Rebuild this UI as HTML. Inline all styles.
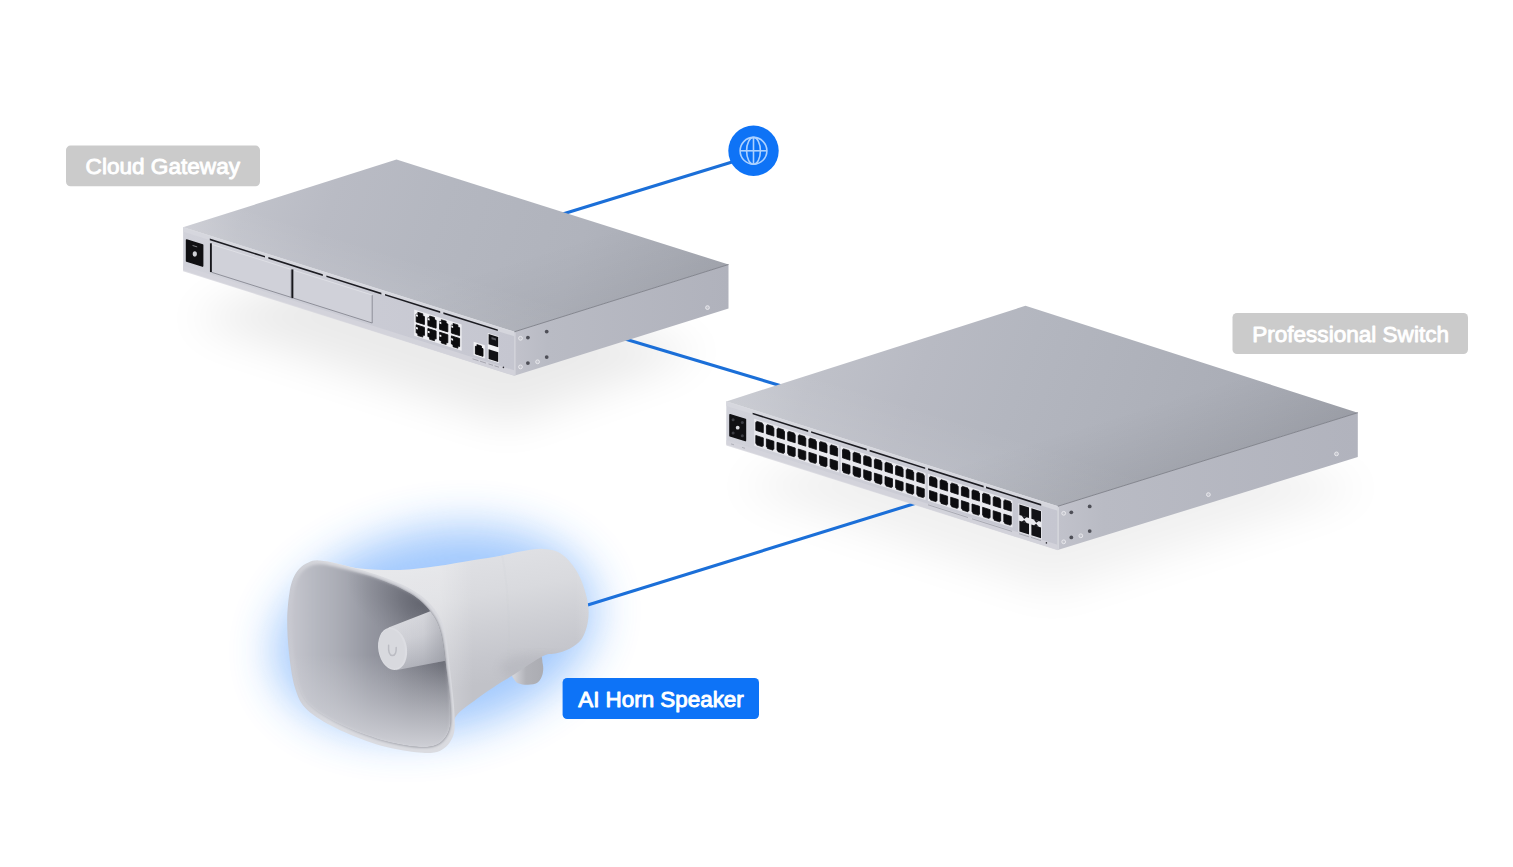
<!DOCTYPE html>
<html><head><meta charset="utf-8"><title>Network diagram</title>
<style>
html,body{margin:0;padding:0;background:#fff;}
body{width:1513px;height:867px;overflow:hidden;font-family:"Liberation Sans",sans-serif;}
</style></head>
<body>
<svg width="1513" height="867" viewBox="0 0 1513 867" style="display:block"><defs>
<filter id="blur16" x="-30%" y="-60%" width="160%" height="220%"><feGaussianBlur stdDeviation="16"/></filter>
<filter id="blur20" x="-30%" y="-60%" width="160%" height="220%"><feGaussianBlur stdDeviation="20"/></filter>
<filter id="blur14" x="-30%" y="-60%" width="160%" height="220%"><feGaussianBlur stdDeviation="14"/></filter>
<filter id="blur22" x="-30%" y="-60%" width="160%" height="220%"><feGaussianBlur stdDeviation="22"/></filter>
<filter id="blur10" x="-30%" y="-60%" width="160%" height="220%"><feGaussianBlur stdDeviation="10"/></filter>
<filter id="glow" x="-50%" y="-50%" width="200%" height="200%"><feGaussianBlur stdDeviation="23"/></filter>
<filter id="soft" x="-10%" y="-10%" width="120%" height="120%"><feGaussianBlur stdDeviation="0.45"/></filter>
<filter id="soft2" x="-10%" y="-10%" width="120%" height="120%"><feGaussianBlur stdDeviation="1.6"/></filter>
<filter id="soft4" x="-20%" y="-20%" width="140%" height="140%"><feGaussianBlur stdDeviation="4"/></filter>
<linearGradient id="gwTop" gradientUnits="userSpaceOnUse" x1="183.1" y1="227.3" x2="680.6" y2="401.5">
  <stop offset="0" stop-color="#cbccd3"/><stop offset="0.1" stop-color="#c0c2ca"/><stop offset="0.25" stop-color="#b9bbc4"/><stop offset="0.45" stop-color="#b4b7c0"/><stop offset="0.72" stop-color="#b0b3bc"/><stop offset="0.9" stop-color="#aaadb6"/><stop offset="1" stop-color="#a6a9b2"/>
</linearGradient>
<linearGradient id="gwTopX" gradientUnits="userSpaceOnUse" x1="349" y1="279.7" x2="387.8" y2="156.6">
  <stop offset="0" stop-color="#fff" stop-opacity="0.07"/><stop offset="0.3" stop-color="#fff" stop-opacity="0"/><stop offset="1" stop-color="#fff" stop-opacity="0"/>
</linearGradient>
<linearGradient id="gwFront" gradientUnits="userSpaceOnUse" x1="184" y1="0" x2="515" y2="0">
  <stop offset="0" stop-color="#d1d2da"/><stop offset="1" stop-color="#c5c6d0"/>
</linearGradient>
<linearGradient id="gwSide" gradientUnits="userSpaceOnUse" x1="515" y1="0" x2="729" y2="0">
  <stop offset="0" stop-color="#c1c2cb"/><stop offset="0.15" stop-color="#b9bbc4"/><stop offset="1" stop-color="#b0b2bc"/>
</linearGradient>
<linearGradient id="swTop" gradientUnits="userSpaceOnUse" x1="726.3" y1="401.4" x2="1292.5" y2="599.6">
  <stop offset="0" stop-color="#c8cad1"/><stop offset="0.12" stop-color="#bfc1c9"/><stop offset="0.29" stop-color="#b8bac3"/><stop offset="0.45" stop-color="#b3b6bf"/><stop offset="0.62" stop-color="#afb2bb"/><stop offset="0.85" stop-color="#a9acb5"/><stop offset="1" stop-color="#a4a7b0"/>
</linearGradient>
<linearGradient id="swTopX" gradientUnits="userSpaceOnUse" x1="892" y1="454" x2="946.5" y2="281.3">
  <stop offset="0" stop-color="#fff" stop-opacity="0.07"/><stop offset="0.3" stop-color="#fff" stop-opacity="0"/><stop offset="1" stop-color="#fff" stop-opacity="0"/>
</linearGradient>
<linearGradient id="swFront" gradientUnits="userSpaceOnUse" x1="726" y1="0" x2="1058" y2="0">
  <stop offset="0" stop-color="#d1d2da"/><stop offset="1" stop-color="#c5c6d0"/>
</linearGradient>
<linearGradient id="swSide" gradientUnits="userSpaceOnUse" x1="1058" y1="0" x2="1358" y2="0">
  <stop offset="0" stop-color="#c1c2cb"/><stop offset="0.15" stop-color="#b9bbc4"/><stop offset="1" stop-color="#b1b3bd"/>
</linearGradient>
<linearGradient id="swTopR" gradientUnits="userSpaceOnUse" x1="1207.7" y1="459.5" x2="1148.4" y2="269.5">
  <stop offset="0" stop-color="#000" stop-opacity="0.06"/><stop offset="0.35" stop-color="#000" stop-opacity="0"/><stop offset="1" stop-color="#000" stop-opacity="0"/>
</linearGradient>
<linearGradient id="gwTopR" gradientUnits="userSpaceOnUse" x1="621.4" y1="298.2" x2="561.7" y2="108.4">
  <stop offset="0" stop-color="#000" stop-opacity="0.04"/><stop offset="0.35" stop-color="#000" stop-opacity="0"/><stop offset="1" stop-color="#000" stop-opacity="0"/>
</linearGradient>
</defs>
<rect width="1513" height="867" fill="#ffffff"/>
<g filter="url(#blur22)" opacity="0.078">
<polygon points="188.0,318.0 508.0,424.0 705.0,352.0 380.0,250.0" fill="#000"/>
</g>
<g filter="url(#blur22)" opacity="0.055">
<polygon points="734.0,486.0 1052.0,592.0 1368.0,488.0 1035.0,385.0" fill="#000"/>
</g>
<g stroke="#1b6fd8" stroke-width="3.1" stroke-linecap="butt">
<line x1="750" y1="156.4" x2="540" y2="220.9"/>
<line x1="600" y1="331.6" x2="800" y2="391.4"/>
<line x1="940" y1="495.7" x2="570" y2="610.6"/>
</g>
<g id="gateway">
<polygon points="183.1,227.3 514.3,331.8 514.3,375.8 183.1,270.2" fill="url(#gwFront)"/>
<polygon points="514.3,331.8 728.5,264.5 728.5,308.5 514.3,375.8" fill="url(#gwSide)"/>
<polygon points="396.5,159.5 183.1,227.3 514.3,331.8 728.5,264.5" fill="url(#gwTop)"/>
<polygon points="396.5,159.5 183.1,227.3 514.3,331.8 728.5,264.5" fill="url(#gwTopX)"/>
<polygon points="396.5,159.5 183.1,227.3 514.3,331.8 728.5,264.5" fill="url(#gwTopR)"/>
<polygon points="183.1,227.3 514.3,331.8 514.3,336.3 183.1,231.8" fill="#d6d7de" opacity="0.9"/>
<polygon points="183.1,265.8 514.3,370.3 514.3,375.8 183.1,271.3" fill="#d4d5dc" opacity="0.8"/>
<line x1="514.3" y1="331.8" x2="728.5" y2="264.5" stroke="#7d7f88" stroke-width="0.9"/>
<line x1="183.1" y1="227.60000000000002" x2="514.3" y2="332.1" stroke="#d9dae0" stroke-width="1"/>
<line x1="514.9" y1="332.8" x2="514.9" y2="375.3" stroke="#d3d4db" stroke-width="1.4"/>
<polygon points="186.6,240.0 202.6,245.1 202.6,266.1 186.6,261.0" fill="#101013" stroke="#101013" stroke-width="1.6" stroke-linejoin="round"/>
<ellipse cx="194.8" cy="254.0" rx="2.1" ry="2.7" fill="#cfd0d6"/>
<line x1="192.6" y1="245.5" x2="197.2" y2="246.9" stroke="#8b8c92" stroke-width="0.9"/>
<polygon points="209.8,238.6 265.0,256.0 265.0,257.6 209.8,240.2" fill="#1c1c22"/>
<polygon points="268.4,257.1 322.8,274.3 322.8,275.9 268.4,258.7" fill="#1c1c22"/>
<polygon points="326.4,275.4 381.4,292.8 381.4,294.4 326.4,277.0" fill="#1c1c22"/>
<polygon points="385.0,293.9 440.2,311.3 440.2,312.9 385.0,295.5" fill="#1c1c22"/>
<polygon points="443.4,312.3 497.8,329.5 497.8,331.1 443.4,313.9" fill="#1c1c22"/>
<polygon points="211.6,244.3 291.2,269.4 291.2,297.4 211.6,272.3" fill="#d0d1d9"/>
<polyline points="211.6,272.3 291.2,297.4 291.2,269.4" fill="none" stroke="#7e7f89" stroke-width="0.8"/>
<polyline points="211.6,244.3 291.2,269.4" fill="none" stroke="#e0e1e7" stroke-width="0.9"/>
<polygon points="293.4,270.1 372.2,295.0 372.2,323.0 293.4,298.1" fill="#d0d1d9"/>
<polyline points="293.4,298.1 372.2,323.0 372.2,295.0" fill="none" stroke="#7e7f89" stroke-width="0.8"/>
<polyline points="293.4,270.1 372.2,295.0" fill="none" stroke="#e0e1e7" stroke-width="0.9"/>
<line x1="210.9" y1="243.3" x2="210.9" y2="272.1" stroke="#17171c" stroke-width="1.9"/>
<line x1="292.4" y1="269.4" x2="292.4" y2="298.2" stroke="#17171c" stroke-width="1.9"/>
<polygon points="414.2,309.5 461.6,324.5 461.6,350.8 414.2,335.8" fill="#eeeef2"/>
<polygon points="416.2,314.0 424.4,316.6 424.4,324.5 416.2,321.9" fill="#0c0c0e" stroke="#0c0c0e" stroke-width="0.9" stroke-linejoin="round"/><polygon points="417.8,312.3 422.8,313.8 422.8,317.9 417.8,316.3" fill="#0c0c0e" stroke="#0c0c0e" stroke-width="0.7" stroke-linejoin="round"/>
<polygon points="416.2,324.8 424.4,327.4 424.4,335.4 416.2,332.8" fill="#0c0c0e" stroke="#0c0c0e" stroke-width="0.9" stroke-linejoin="round"/><polygon points="417.8,331.5 422.8,333.0 422.8,337.1 417.8,335.6" fill="#0c0c0e" stroke="#0c0c0e" stroke-width="0.7" stroke-linejoin="round"/>
<polygon points="416.0,314.2 417.9,314.8 417.9,316.8 416.0,316.2" fill="#f3f3f6"/>
<polygon points="416.0,327.0 417.9,327.6 417.9,329.6 416.0,329.0" fill="#f3f3f6"/>
<polygon points="427.9,317.7 436.1,320.3 436.1,328.2 427.9,325.6" fill="#0c0c0e" stroke="#0c0c0e" stroke-width="0.9" stroke-linejoin="round"/><polygon points="429.6,316.0 434.5,317.5 434.5,321.6 429.6,320.0" fill="#0c0c0e" stroke="#0c0c0e" stroke-width="0.7" stroke-linejoin="round"/>
<polygon points="427.9,328.5 436.1,331.1 436.1,339.1 427.9,336.5" fill="#0c0c0e" stroke="#0c0c0e" stroke-width="0.9" stroke-linejoin="round"/><polygon points="429.6,335.2 434.5,336.7 434.5,340.8 429.6,339.3" fill="#0c0c0e" stroke="#0c0c0e" stroke-width="0.7" stroke-linejoin="round"/>
<polygon points="427.7,317.9 429.6,318.5 429.6,320.5 427.7,319.9" fill="#f3f3f6"/>
<polygon points="427.7,330.7 429.6,331.3 429.6,333.3 427.7,332.7" fill="#f3f3f6"/>
<polygon points="439.6,321.4 447.8,324.0 447.8,331.9 439.6,329.3" fill="#0c0c0e" stroke="#0c0c0e" stroke-width="0.9" stroke-linejoin="round"/><polygon points="441.3,319.7 446.2,321.2 446.2,325.3 441.3,323.7" fill="#0c0c0e" stroke="#0c0c0e" stroke-width="0.7" stroke-linejoin="round"/>
<polygon points="439.6,332.2 447.8,334.8 447.8,342.8 439.6,340.2" fill="#0c0c0e" stroke="#0c0c0e" stroke-width="0.9" stroke-linejoin="round"/><polygon points="441.3,338.9 446.2,340.4 446.2,344.5 441.3,343.0" fill="#0c0c0e" stroke="#0c0c0e" stroke-width="0.7" stroke-linejoin="round"/>
<polygon points="439.4,321.6 441.3,322.2 441.3,324.2 439.4,323.6" fill="#f3f3f6"/>
<polygon points="439.4,334.4 441.3,335.0 441.3,337.0 439.4,336.4" fill="#f3f3f6"/>
<polygon points="451.4,325.1 459.6,327.7 459.6,335.6 451.4,333.0" fill="#0c0c0e" stroke="#0c0c0e" stroke-width="0.9" stroke-linejoin="round"/><polygon points="453.0,323.4 457.9,324.9 457.9,329.0 453.0,327.4" fill="#0c0c0e" stroke="#0c0c0e" stroke-width="0.7" stroke-linejoin="round"/>
<polygon points="451.4,335.9 459.6,338.5 459.6,346.5 451.4,343.9" fill="#0c0c0e" stroke="#0c0c0e" stroke-width="0.9" stroke-linejoin="round"/><polygon points="453.0,342.6 457.9,344.1 457.9,348.2 453.0,346.7" fill="#0c0c0e" stroke="#0c0c0e" stroke-width="0.7" stroke-linejoin="round"/>
<polygon points="451.2,325.3 453.1,325.9 453.1,327.9 451.2,327.3" fill="#f3f3f6"/>
<polygon points="451.2,338.1 453.1,338.7 453.1,340.7 451.2,340.1" fill="#f3f3f6"/>
<polygon points="473.6,341.8 484.8,345.3 484.8,358.5 473.6,355.0" fill="#f2f2f5"/>
<polygon points="475.4,346.3 483.0,348.7 483.0,356.3 475.4,353.9" fill="#0c0c0e" stroke="#0c0c0e" stroke-width="0.9" stroke-linejoin="round"/><polygon points="476.9,344.6 481.5,346.0 481.5,350.0 476.9,348.5" fill="#0c0c0e" stroke="#0c0c0e" stroke-width="0.7" stroke-linejoin="round"/>
<polygon points="487.8,333.0 498.8,336.5 498.8,362.9 487.8,359.4" fill="#f2f2f5"/>
<polygon points="488.6,334.1 498.2,337.1 498.2,347.3 488.6,344.3" fill="#121216"/>
<polygon points="488.6,349.3 498.2,352.3 498.2,361.9 488.6,358.9" fill="#121216"/>
<polygon points="491.5,337.0 496.0,338.4 496.0,340.6 491.5,339.2" fill="#55565c"/>
<line x1="472.5" y1="358.8" x2="478.5" y2="360.7" stroke="#9a9ba4" stroke-width="0.8"/>
<line x1="480" y1="361.2" x2="486" y2="363.1" stroke="#9a9ba4" stroke-width="0.8"/>
<line x1="488.5" y1="363.9" x2="493" y2="365.3" stroke="#9a9ba4" stroke-width="0.8"/>
<line x1="494.5" y1="365.8" x2="499" y2="367.2" stroke="#9a9ba4" stroke-width="0.8"/>
<circle cx="503.4" cy="367.4" r="0.8" fill="#303036"/>
<circle cx="520.5" cy="338.3" r="1.9" fill="#c4c5cd" stroke="#ededf1" stroke-width="0.85"/>
<circle cx="520.5" cy="366.9" r="1.9" fill="#c4c5cd" stroke="#ededf1" stroke-width="0.85"/>
<circle cx="537.6" cy="361.8" r="1.9" fill="#c4c5cd" stroke="#ededf1" stroke-width="0.85"/>
<circle cx="707.5" cy="307.6" r="1.9" fill="#c4c5cd" stroke="#ededf1" stroke-width="0.85"/>
<circle cx="527.9" cy="337.6" r="1.9" fill="#4e4f57"/>
<circle cx="546.7" cy="331.6" r="1.9" fill="#4e4f57"/>
<circle cx="527.9" cy="363.1" r="1.9" fill="#4e4f57"/>
<circle cx="546.7" cy="357.1" r="1.9" fill="#4e4f57"/>
</g>
<g id="switch">
<polygon points="726.3,401.4 1057.7,506.3 1057.7,550.1 726.3,444.4" fill="url(#swFront)"/>
<polygon points="1057.7,506.3 1357.8,412.7 1357.8,457.1 1057.7,550.1" fill="url(#swSide)"/>
<polygon points="1025.5,305.8 726.3,401.4 1057.7,506.3 1357.8,412.7" fill="url(#swTop)"/>
<polygon points="1025.5,305.8 726.3,401.4 1057.7,506.3 1357.8,412.7" fill="url(#swTopX)"/>
<polygon points="1025.5,305.8 726.3,401.4 1057.7,506.3 1357.8,412.7" fill="url(#swTopR)"/>
<polygon points="726.3,401.4 1057.7,506.3 1057.7,510.8 726.3,405.9" fill="#d6d7de" opacity="0.9"/>
<polygon points="726.3,439.9 1057.7,544.8 1057.7,550.3 726.3,445.4" fill="#d4d5dc" opacity="0.8"/>
<line x1="1057.7" y1="506.3" x2="1357.8" y2="412.7" stroke="#7d7f88" stroke-width="0.9"/>
<line x1="726.3" y1="401.7" x2="1057.7" y2="506.6" stroke="#d9dae0" stroke-width="1"/>
<line x1="1058.3" y1="507.3" x2="1058.3" y2="549.6" stroke="#d3d4db" stroke-width="1.4"/>
<polygon points="730.0,414.8 745.4,419.6 745.4,440.6 730.0,435.8" fill="#101013" stroke="#101013" stroke-width="1.6" stroke-linejoin="round"/>
<circle cx="737.7" cy="427.7" r="1.9" fill="#d8d9de"/>
<circle cx="733.1" cy="419.7" r="1.5" fill="#3c3d43"/>
<circle cx="742.3000000000001" cy="422.6" r="1.5" fill="#3c3d43"/>
<circle cx="733.1" cy="432.9" r="1.5" fill="#3c3d43"/>
<circle cx="742.3000000000001" cy="435.8" r="1.5" fill="#3c3d43"/>
<polygon points="752.6,412.7 808.2,430.3 808.2,431.9 752.6,414.3" fill="#1c1c22"/>
<polygon points="811.1,431.2 866.7,448.8 866.7,450.4 811.1,432.8" fill="#1c1c22"/>
<polygon points="869.6,449.8 925.2,467.4 925.2,469.0 869.6,451.4" fill="#1c1c22"/>
<polygon points="928.1,468.3 983.6,485.8 983.6,487.4 928.1,469.9" fill="#1c1c22"/>
<polygon points="986.0,486.6 1041.2,504.1 1041.2,505.7 986.0,488.2" fill="#1c1c22"/>
<polygon points="754.2,418.8 838.8,445.6 838.8,472.6 754.2,445.8" fill="#e9e9ee"/>
<polygon points="755.8,422.3 763.3,424.6 763.3,432.7 755.8,430.3" fill="#0d0d10" stroke="#0d0d10" stroke-width="0.8" stroke-linejoin="round"/><polygon points="756.7,421.2 762.4,423.0 762.4,426.8 756.7,425.0" fill="#0d0d10" stroke="#0d0d10" stroke-width="0.6" stroke-linejoin="round"/>
<polygon points="755.8,435.5 763.3,437.9 763.3,445.8 755.8,443.4" fill="#0d0d10" stroke="#0d0d10" stroke-width="0.8" stroke-linejoin="round"/><polygon points="756.7,441.3 762.4,443.1 762.4,446.8 756.7,445.0" fill="#0d0d10" stroke="#0d0d10" stroke-width="0.6" stroke-linejoin="round"/>
<polygon points="766.4,425.6 773.9,428.0 773.9,436.1 766.4,433.7" fill="#0d0d10" stroke="#0d0d10" stroke-width="0.8" stroke-linejoin="round"/><polygon points="767.3,424.6 773.0,426.4 773.0,430.1 767.3,428.3" fill="#0d0d10" stroke="#0d0d10" stroke-width="0.6" stroke-linejoin="round"/>
<polygon points="766.4,438.9 773.9,441.3 773.9,449.2 766.4,446.8" fill="#0d0d10" stroke="#0d0d10" stroke-width="0.8" stroke-linejoin="round"/><polygon points="767.3,444.7 773.0,446.5 773.0,450.2 767.3,448.4" fill="#0d0d10" stroke="#0d0d10" stroke-width="0.6" stroke-linejoin="round"/>
<polygon points="777.0,429.0 784.5,431.4 784.5,439.4 777.0,437.1" fill="#0d0d10" stroke="#0d0d10" stroke-width="0.8" stroke-linejoin="round"/><polygon points="777.9,427.9 783.6,429.8 783.6,433.5 777.9,431.7" fill="#0d0d10" stroke="#0d0d10" stroke-width="0.6" stroke-linejoin="round"/>
<polygon points="777.0,442.3 784.5,444.6 784.5,452.5 777.0,450.2" fill="#0d0d10" stroke="#0d0d10" stroke-width="0.8" stroke-linejoin="round"/><polygon points="777.9,448.1 783.6,449.9 783.6,453.6 777.9,451.7" fill="#0d0d10" stroke="#0d0d10" stroke-width="0.6" stroke-linejoin="round"/>
<polygon points="787.7,432.3 795.2,434.7 795.2,442.8 787.7,440.4" fill="#0d0d10" stroke="#0d0d10" stroke-width="0.8" stroke-linejoin="round"/><polygon points="788.6,431.3 794.3,433.1 794.3,436.9 788.6,435.1" fill="#0d0d10" stroke="#0d0d10" stroke-width="0.6" stroke-linejoin="round"/>
<polygon points="787.7,445.6 795.2,448.0 795.2,455.9 787.7,453.5" fill="#0d0d10" stroke="#0d0d10" stroke-width="0.8" stroke-linejoin="round"/><polygon points="788.6,451.4 794.3,453.2 794.3,456.9 788.6,455.1" fill="#0d0d10" stroke="#0d0d10" stroke-width="0.6" stroke-linejoin="round"/>
<polygon points="798.3,435.7 805.8,438.1 805.8,446.2 798.3,443.8" fill="#0d0d10" stroke="#0d0d10" stroke-width="0.8" stroke-linejoin="round"/><polygon points="799.2,434.7 804.9,436.5 804.9,440.2 799.2,438.4" fill="#0d0d10" stroke="#0d0d10" stroke-width="0.6" stroke-linejoin="round"/>
<polygon points="798.3,449.0 805.8,451.4 805.8,459.3 798.3,456.9" fill="#0d0d10" stroke="#0d0d10" stroke-width="0.8" stroke-linejoin="round"/><polygon points="799.2,454.8 804.9,456.6 804.9,460.3 799.2,458.5" fill="#0d0d10" stroke="#0d0d10" stroke-width="0.6" stroke-linejoin="round"/>
<polygon points="808.9,439.1 816.4,441.4 816.4,449.5 808.9,447.1" fill="#0d0d10" stroke="#0d0d10" stroke-width="0.8" stroke-linejoin="round"/><polygon points="809.8,438.0 815.5,439.8 815.5,443.6 809.8,441.8" fill="#0d0d10" stroke="#0d0d10" stroke-width="0.6" stroke-linejoin="round"/>
<polygon points="808.9,452.3 816.4,454.7 816.4,462.6 808.9,460.3" fill="#0d0d10" stroke="#0d0d10" stroke-width="0.8" stroke-linejoin="round"/><polygon points="809.8,458.2 815.5,460.0 815.5,463.6 809.8,461.8" fill="#0d0d10" stroke="#0d0d10" stroke-width="0.6" stroke-linejoin="round"/>
<polygon points="819.5,442.4 827.0,444.8 827.0,452.9 819.5,450.5" fill="#0d0d10" stroke="#0d0d10" stroke-width="0.8" stroke-linejoin="round"/><polygon points="820.4,441.4 826.1,443.2 826.1,447.0 820.4,445.2" fill="#0d0d10" stroke="#0d0d10" stroke-width="0.6" stroke-linejoin="round"/>
<polygon points="819.5,455.7 827.0,458.1 827.0,466.0 819.5,463.6" fill="#0d0d10" stroke="#0d0d10" stroke-width="0.8" stroke-linejoin="round"/><polygon points="820.4,461.5 826.1,463.3 826.1,467.0 820.4,465.2" fill="#0d0d10" stroke="#0d0d10" stroke-width="0.6" stroke-linejoin="round"/>
<polygon points="830.1,445.8 837.6,448.2 837.6,456.2 830.1,453.9" fill="#0d0d10" stroke="#0d0d10" stroke-width="0.8" stroke-linejoin="round"/><polygon points="831.0,444.8 836.7,446.6 836.7,450.3 831.0,448.5" fill="#0d0d10" stroke="#0d0d10" stroke-width="0.6" stroke-linejoin="round"/>
<polygon points="830.1,459.1 837.6,461.4 837.6,469.4 830.1,467.0" fill="#0d0d10" stroke="#0d0d10" stroke-width="0.8" stroke-linejoin="round"/><polygon points="831.0,464.9 836.7,466.7 836.7,470.4 831.0,468.6" fill="#0d0d10" stroke="#0d0d10" stroke-width="0.6" stroke-linejoin="round"/>
<polygon points="840.9,446.3 925.5,473.1 925.5,500.1 840.9,473.3" fill="#e9e9ee"/>
<polygon points="842.5,449.7 850.0,452.1 850.0,460.2 842.5,457.8" fill="#0d0d10" stroke="#0d0d10" stroke-width="0.8" stroke-linejoin="round"/><polygon points="843.4,448.7 849.1,450.5 849.1,454.2 843.4,452.4" fill="#0d0d10" stroke="#0d0d10" stroke-width="0.6" stroke-linejoin="round"/>
<polygon points="842.5,463.0 850.0,465.4 850.0,473.3 842.5,470.9" fill="#0d0d10" stroke="#0d0d10" stroke-width="0.8" stroke-linejoin="round"/><polygon points="843.4,468.8 849.1,470.6 849.1,474.3 843.4,472.5" fill="#0d0d10" stroke="#0d0d10" stroke-width="0.6" stroke-linejoin="round"/>
<polygon points="853.1,453.1 860.6,455.4 860.6,463.5 853.1,461.1" fill="#0d0d10" stroke="#0d0d10" stroke-width="0.8" stroke-linejoin="round"/><polygon points="854.0,452.0 859.7,453.8 859.7,457.6 854.0,455.8" fill="#0d0d10" stroke="#0d0d10" stroke-width="0.6" stroke-linejoin="round"/>
<polygon points="853.1,466.3 860.6,468.7 860.6,476.6 853.1,474.3" fill="#0d0d10" stroke="#0d0d10" stroke-width="0.8" stroke-linejoin="round"/><polygon points="854.0,472.1 859.7,474.0 859.7,477.6 854.0,475.8" fill="#0d0d10" stroke="#0d0d10" stroke-width="0.6" stroke-linejoin="round"/>
<polygon points="863.7,456.4 871.2,458.8 871.2,466.9 863.7,464.5" fill="#0d0d10" stroke="#0d0d10" stroke-width="0.8" stroke-linejoin="round"/><polygon points="864.6,455.4 870.3,457.2 870.3,461.0 864.6,459.1" fill="#0d0d10" stroke="#0d0d10" stroke-width="0.6" stroke-linejoin="round"/>
<polygon points="863.7,469.7 871.2,472.1 871.2,480.0 863.7,477.6" fill="#0d0d10" stroke="#0d0d10" stroke-width="0.8" stroke-linejoin="round"/><polygon points="864.6,475.5 870.3,477.3 870.3,481.0 864.6,479.2" fill="#0d0d10" stroke="#0d0d10" stroke-width="0.6" stroke-linejoin="round"/>
<polygon points="874.4,459.8 881.9,462.2 881.9,470.2 874.4,467.9" fill="#0d0d10" stroke="#0d0d10" stroke-width="0.8" stroke-linejoin="round"/><polygon points="875.3,458.8 881.0,460.6 881.0,464.3 875.3,462.5" fill="#0d0d10" stroke="#0d0d10" stroke-width="0.6" stroke-linejoin="round"/>
<polygon points="874.4,473.1 881.9,475.4 881.9,483.4 874.4,481.0" fill="#0d0d10" stroke="#0d0d10" stroke-width="0.8" stroke-linejoin="round"/><polygon points="875.3,478.9 881.0,480.7 881.0,484.4 875.3,482.6" fill="#0d0d10" stroke="#0d0d10" stroke-width="0.6" stroke-linejoin="round"/>
<polygon points="885.0,463.1 892.5,465.5 892.5,473.6 885.0,471.2" fill="#0d0d10" stroke="#0d0d10" stroke-width="0.8" stroke-linejoin="round"/><polygon points="885.9,462.1 891.6,463.9 891.6,467.7 885.9,465.9" fill="#0d0d10" stroke="#0d0d10" stroke-width="0.6" stroke-linejoin="round"/>
<polygon points="885.0,476.4 892.5,478.8 892.5,486.7 885.0,484.3" fill="#0d0d10" stroke="#0d0d10" stroke-width="0.8" stroke-linejoin="round"/><polygon points="885.9,482.2 891.6,484.0 891.6,487.7 885.9,485.9" fill="#0d0d10" stroke="#0d0d10" stroke-width="0.6" stroke-linejoin="round"/>
<polygon points="895.6,466.5 903.1,468.9 903.1,477.0 895.6,474.6" fill="#0d0d10" stroke="#0d0d10" stroke-width="0.8" stroke-linejoin="round"/><polygon points="896.5,465.5 902.2,467.3 902.2,471.0 896.5,469.2" fill="#0d0d10" stroke="#0d0d10" stroke-width="0.6" stroke-linejoin="round"/>
<polygon points="895.6,479.8 903.1,482.2 903.1,490.1 895.6,487.7" fill="#0d0d10" stroke="#0d0d10" stroke-width="0.8" stroke-linejoin="round"/><polygon points="896.5,485.6 902.2,487.4 902.2,491.1 896.5,489.3" fill="#0d0d10" stroke="#0d0d10" stroke-width="0.6" stroke-linejoin="round"/>
<polygon points="906.2,469.9 913.7,472.2 913.7,480.3 906.2,478.0" fill="#0d0d10" stroke="#0d0d10" stroke-width="0.8" stroke-linejoin="round"/><polygon points="907.1,468.8 912.8,470.6 912.8,474.4 907.1,472.6" fill="#0d0d10" stroke="#0d0d10" stroke-width="0.6" stroke-linejoin="round"/>
<polygon points="906.2,483.2 913.7,485.5 913.7,493.4 906.2,491.1" fill="#0d0d10" stroke="#0d0d10" stroke-width="0.8" stroke-linejoin="round"/><polygon points="907.1,489.0 912.8,490.8 912.8,494.4 907.1,492.6" fill="#0d0d10" stroke="#0d0d10" stroke-width="0.6" stroke-linejoin="round"/>
<polygon points="916.8,473.2 924.3,475.6 924.3,483.7 916.8,481.3" fill="#0d0d10" stroke="#0d0d10" stroke-width="0.8" stroke-linejoin="round"/><polygon points="917.7,472.2 923.4,474.0 923.4,477.8 917.7,476.0" fill="#0d0d10" stroke="#0d0d10" stroke-width="0.6" stroke-linejoin="round"/>
<polygon points="916.8,486.5 924.3,488.9 924.3,496.8 916.8,494.4" fill="#0d0d10" stroke="#0d0d10" stroke-width="0.8" stroke-linejoin="round"/><polygon points="917.7,492.3 923.4,494.1 923.4,497.8 917.7,496.0" fill="#0d0d10" stroke="#0d0d10" stroke-width="0.6" stroke-linejoin="round"/>
<polygon points="927.9,473.8 1012.5,500.6 1012.5,527.6 927.9,500.8" fill="#e9e9ee"/>
<polygon points="929.5,477.2 937.0,479.6 937.0,487.7 929.5,485.3" fill="#0d0d10" stroke="#0d0d10" stroke-width="0.8" stroke-linejoin="round"/><polygon points="930.4,476.2 936.1,478.0 936.1,481.8 930.4,480.0" fill="#0d0d10" stroke="#0d0d10" stroke-width="0.6" stroke-linejoin="round"/>
<polygon points="929.5,490.5 937.0,492.9 937.0,500.8 929.5,498.4" fill="#0d0d10" stroke="#0d0d10" stroke-width="0.8" stroke-linejoin="round"/><polygon points="930.4,496.3 936.1,498.1 936.1,501.8 930.4,500.0" fill="#0d0d10" stroke="#0d0d10" stroke-width="0.6" stroke-linejoin="round"/>
<polygon points="940.1,480.6 947.6,483.0 947.6,491.1 940.1,488.7" fill="#0d0d10" stroke="#0d0d10" stroke-width="0.8" stroke-linejoin="round"/><polygon points="941.0,479.6 946.7,481.4 946.7,485.1 941.0,483.3" fill="#0d0d10" stroke="#0d0d10" stroke-width="0.6" stroke-linejoin="round"/>
<polygon points="940.1,493.9 947.6,496.3 947.6,504.2 940.1,501.8" fill="#0d0d10" stroke="#0d0d10" stroke-width="0.8" stroke-linejoin="round"/><polygon points="941.0,499.7 946.7,501.5 946.7,505.2 941.0,503.4" fill="#0d0d10" stroke="#0d0d10" stroke-width="0.6" stroke-linejoin="round"/>
<polygon points="950.7,484.0 958.2,486.3 958.2,494.4 950.7,492.0" fill="#0d0d10" stroke="#0d0d10" stroke-width="0.8" stroke-linejoin="round"/><polygon points="951.6,482.9 957.3,484.7 957.3,488.5 951.6,486.7" fill="#0d0d10" stroke="#0d0d10" stroke-width="0.6" stroke-linejoin="round"/>
<polygon points="950.7,497.2 958.2,499.6 958.2,507.5 950.7,505.2" fill="#0d0d10" stroke="#0d0d10" stroke-width="0.8" stroke-linejoin="round"/><polygon points="951.6,503.0 957.3,504.9 957.3,508.5 951.6,506.7" fill="#0d0d10" stroke="#0d0d10" stroke-width="0.6" stroke-linejoin="round"/>
<polygon points="961.4,487.3 968.9,489.7 968.9,497.8 961.4,495.4" fill="#0d0d10" stroke="#0d0d10" stroke-width="0.8" stroke-linejoin="round"/><polygon points="962.3,486.3 968.0,488.1 968.0,491.9 962.3,490.0" fill="#0d0d10" stroke="#0d0d10" stroke-width="0.6" stroke-linejoin="round"/>
<polygon points="961.4,500.6 968.9,503.0 968.9,510.9 961.4,508.5" fill="#0d0d10" stroke="#0d0d10" stroke-width="0.8" stroke-linejoin="round"/><polygon points="962.3,506.4 968.0,508.2 968.0,511.9 962.3,510.1" fill="#0d0d10" stroke="#0d0d10" stroke-width="0.6" stroke-linejoin="round"/>
<polygon points="972.0,490.7 979.5,493.1 979.5,501.1 972.0,498.8" fill="#0d0d10" stroke="#0d0d10" stroke-width="0.8" stroke-linejoin="round"/><polygon points="972.9,489.7 978.6,491.5 978.6,495.2 972.9,493.4" fill="#0d0d10" stroke="#0d0d10" stroke-width="0.6" stroke-linejoin="round"/>
<polygon points="972.0,504.0 979.5,506.3 979.5,514.3 972.0,511.9" fill="#0d0d10" stroke="#0d0d10" stroke-width="0.8" stroke-linejoin="round"/><polygon points="972.9,509.8 978.6,511.6 978.6,515.3 972.9,513.5" fill="#0d0d10" stroke="#0d0d10" stroke-width="0.6" stroke-linejoin="round"/>
<polygon points="982.6,494.0 990.1,496.4 990.1,504.5 982.6,502.1" fill="#0d0d10" stroke="#0d0d10" stroke-width="0.8" stroke-linejoin="round"/><polygon points="983.5,493.0 989.2,494.8 989.2,498.6 983.5,496.8" fill="#0d0d10" stroke="#0d0d10" stroke-width="0.6" stroke-linejoin="round"/>
<polygon points="982.6,507.3 990.1,509.7 990.1,517.6 982.6,515.2" fill="#0d0d10" stroke="#0d0d10" stroke-width="0.8" stroke-linejoin="round"/><polygon points="983.5,513.1 989.2,514.9 989.2,518.6 983.5,516.8" fill="#0d0d10" stroke="#0d0d10" stroke-width="0.6" stroke-linejoin="round"/>
<polygon points="993.2,497.4 1000.7,499.8 1000.7,507.9 993.2,505.5" fill="#0d0d10" stroke="#0d0d10" stroke-width="0.8" stroke-linejoin="round"/><polygon points="994.1,496.4 999.8,498.2 999.8,501.9 994.1,500.1" fill="#0d0d10" stroke="#0d0d10" stroke-width="0.6" stroke-linejoin="round"/>
<polygon points="993.2,510.7 1000.7,513.1 1000.7,521.0 993.2,518.6" fill="#0d0d10" stroke="#0d0d10" stroke-width="0.8" stroke-linejoin="round"/><polygon points="994.1,516.5 999.8,518.3 999.8,522.0 994.1,520.2" fill="#0d0d10" stroke="#0d0d10" stroke-width="0.6" stroke-linejoin="round"/>
<polygon points="1003.8,500.8 1011.3,503.1 1011.3,511.2 1003.8,508.9" fill="#0d0d10" stroke="#0d0d10" stroke-width="0.8" stroke-linejoin="round"/><polygon points="1004.7,499.7 1010.4,501.5 1010.4,505.3 1004.7,503.5" fill="#0d0d10" stroke="#0d0d10" stroke-width="0.6" stroke-linejoin="round"/>
<polygon points="1003.8,514.1 1011.3,516.4 1011.3,524.3 1003.8,522.0" fill="#0d0d10" stroke="#0d0d10" stroke-width="0.8" stroke-linejoin="round"/><polygon points="1004.7,519.9 1010.4,521.7 1010.4,525.3 1004.7,523.5" fill="#0d0d10" stroke="#0d0d10" stroke-width="0.6" stroke-linejoin="round"/>
<polygon points="1018.4,503.3 1041.8,510.7 1041.8,539.5 1018.4,532.1" fill="#e9e9ee"/>
<polygon points="1019.4,504.4 1029.0,507.4 1029.0,518.0 1019.4,515.0" fill="#121216"/>
<polygon points="1019.4,520.8 1029.0,523.8 1029.0,534.4 1019.4,531.4" fill="#121216"/>
<polygon points="1021.6,515.5 1026.8,517.1 1024.2,518.9" fill="#18181d"/>
<polygon points="1021.6,521.7 1026.8,523.3 1024.2,519.9" fill="#18181d"/>
<polygon points="1031.4,508.2 1041.0,511.2 1041.0,521.8 1031.4,518.8" fill="#121216"/>
<polygon points="1031.4,524.6 1041.0,527.6 1041.0,538.2 1031.4,535.2" fill="#121216"/>
<polygon points="1033.6,519.3 1038.8,520.9 1036.2,522.7" fill="#18181d"/>
<polygon points="1033.6,525.5 1038.8,527.1 1036.2,523.7" fill="#18181d"/>
<line x1="928" y1="504.8" x2="968" y2="517.5" stroke="#a9aab3" stroke-width="1"/>
<line x1="972" y1="518.8" x2="1012" y2="531.4" stroke="#a9aab3" stroke-width="1"/>
<line x1="1019" y1="533.7" x2="1029" y2="536.8" stroke="#a9aab3" stroke-width="1"/>
<line x1="1031" y1="537.4" x2="1041" y2="540.6" stroke="#a9aab3" stroke-width="1"/>
<circle cx="1046.4" cy="542.9" r="0.8" fill="#303036"/>
<line x1="731" y1="443.9" x2="734" y2="444.8" stroke="#a6a7af" stroke-width="0.8"/>
<line x1="742" y1="447.4" x2="745" y2="448.3" stroke="#a6a7af" stroke-width="0.8"/>
<circle cx="1063.7" cy="513.3" r="1.9" fill="#c4c5cd" stroke="#ededf1" stroke-width="0.85"/>
<circle cx="1063.7" cy="541.8" r="1.9" fill="#c4c5cd" stroke="#ededf1" stroke-width="0.85"/>
<circle cx="1080.8" cy="535.8" r="1.9" fill="#c4c5cd" stroke="#ededf1" stroke-width="0.85"/>
<circle cx="1208.4" cy="494.6" r="1.9" fill="#c4c5cd" stroke="#ededf1" stroke-width="0.85"/>
<circle cx="1336.5" cy="453.9" r="1.9" fill="#c4c5cd" stroke="#ededf1" stroke-width="0.85"/>
<circle cx="1071.3" cy="512.3" r="1.9" fill="#4e4f57"/>
<circle cx="1089.7" cy="506.4" r="1.9" fill="#4e4f57"/>
<circle cx="1071.3" cy="537.4" r="1.9" fill="#4e4f57"/>
<circle cx="1089.7" cy="531.1" r="1.9" fill="#4e4f57"/>
</g>
<defs>
<linearGradient id="hBody" gradientUnits="userSpaceOnUse" x1="505" y1="552" x2="528" y2="676">
  <stop offset="0" stop-color="#dfe0e4"/><stop offset="0.3" stop-color="#d9dade"/>
  <stop offset="0.55" stop-color="#cfd0d5"/><stop offset="0.8" stop-color="#c6c7cd"/><stop offset="1" stop-color="#c1c2c8"/></linearGradient>
<linearGradient id="hBodyX" gradientUnits="userSpaceOnUse" x1="440" y1="0" x2="590" y2="0">
  <stop offset="0" stop-color="#ffffff" stop-opacity="0.25"/><stop offset="0.22" stop-color="#ffffff" stop-opacity="0"/>
  <stop offset="0.9" stop-color="#ffffff" stop-opacity="0"/><stop offset="1" stop-color="#ffffff" stop-opacity="0.12"/></linearGradient>
<linearGradient id="hInner" gradientUnits="userSpaceOnUse" x1="290" y1="640" x2="452" y2="640">
  <stop offset="0" stop-color="#c6c6ce"/><stop offset="0.12" stop-color="#b9bbc3"/><stop offset="0.31" stop-color="#a9abb4"/>
  <stop offset="0.49" stop-color="#9597a1"/><stop offset="0.74" stop-color="#80828c"/><stop offset="1" stop-color="#777982"/></linearGradient>
<linearGradient id="hInnerY" gradientUnits="userSpaceOnUse" x1="0" y1="655" x2="0" y2="748">
  <stop offset="0" stop-color="#d3d4da" stop-opacity="0"/><stop offset="0.5" stop-color="#d3d4da" stop-opacity="0.45"/><stop offset="1" stop-color="#d3d4da" stop-opacity="0.95"/></linearGradient>
<linearGradient id="hRim" gradientUnits="userSpaceOnUse" x1="287" y1="0" x2="330" y2="0">
  <stop offset="0" stop-color="#c6c7cf"/><stop offset="0.35" stop-color="#d0d1d7"/><stop offset="1" stop-color="#dadbe0"/></linearGradient>
<radialGradient id="hPockTop" gradientUnits="userSpaceOnUse" cx="434" cy="607" r="92" gradientTransform="translate(434 607) rotate(22) scale(1 0.5) rotate(-22) translate(-434 -607)">
  <stop offset="0" stop-color="#565862" stop-opacity="0.85"/><stop offset="0.4" stop-color="#62646e" stop-opacity="0.5"/>
  <stop offset="1" stop-color="#80828b" stop-opacity="0"/></radialGradient>
<radialGradient id="hPockBot" gradientUnits="userSpaceOnUse" cx="450" cy="664" r="66">
  <stop offset="0" stop-color="#5a5c66" stop-opacity="0.8"/><stop offset="0.4" stop-color="#676973" stop-opacity="0.45"/>
  <stop offset="1" stop-color="#85878f" stop-opacity="0"/></radialGradient>
<linearGradient id="hCyl" gradientUnits="userSpaceOnUse" x1="410" y1="616" x2="424" y2="668">
  <stop offset="0" stop-color="#d9dadf"/><stop offset="0.4" stop-color="#cfd0d6"/><stop offset="1" stop-color="#aeb0b8"/></linearGradient>
<linearGradient id="hCylX" gradientUnits="userSpaceOnUse" x1="395" y1="0" x2="452" y2="0">
  <stop offset="0" stop-color="#8d8f98" stop-opacity="0"/><stop offset="0.5" stop-color="#8d8f98" stop-opacity="0.05"/><stop offset="1" stop-color="#8d8f98" stop-opacity="0.55"/></linearGradient>
<linearGradient id="hMount" gradientUnits="userSpaceOnUse" x1="514" y1="0" x2="544" y2="0">
  <stop offset="0" stop-color="#d2d3d8"/><stop offset="0.22" stop-color="#c0c1c7"/><stop offset="0.4" stop-color="#b1b2b8"/><stop offset="1" stop-color="#abacb2"/></linearGradient>
<clipPath id="hInnerClip"><path d="M320.0,564.2 C324.3,564.4 326.9,564.7 336.3,567.0 C345.7,569.3 363.7,573.6 376.1,578.0 C388.5,582.4 401.5,588.0 410.6,593.6 C419.7,599.2 425.4,604.8 430.5,611.4 C435.6,618.0 438.4,622.8 441.1,633.0 C443.9,643.2 445.4,659.8 447.0,672.6 C448.6,685.4 450.3,700.0 450.6,709.8 C450.9,719.6 451.0,725.5 448.6,731.4 C446.2,737.3 442.1,742.5 436.2,745.0 C430.3,747.5 423.2,747.5 413.2,746.4 C403.2,745.3 388.5,742.2 376.1,738.4 C363.7,734.6 349.9,729.2 339.0,723.8 C328.1,718.4 317.3,712.1 310.6,705.8 C303.9,699.5 301.8,694.5 298.9,685.9 C296.0,677.3 294.6,665.0 293.3,654.0 C292.0,643.0 291.3,629.8 291.3,619.6 C291.3,609.4 292.4,599.7 293.4,593.0 C294.4,586.3 295.6,583.2 297.2,579.5 C298.8,575.8 300.8,573.2 303.0,571.0 C305.2,568.8 307.7,567.1 310.5,566.0 C313.3,564.9 315.7,564.0 320.0,564.2Z"/></clipPath>
<clipPath id="hMouthClip"><path d="M318.5,560.4 C323.1,560.6 326.7,561.0 336.3,563.4 C345.9,565.8 363.3,570.0 376.1,574.5 C388.9,579.0 403.5,584.6 413.2,590.4 C422.9,596.1 429.2,601.9 434.5,609.0 C439.8,616.1 442.5,622.2 445.1,632.8 C447.8,643.4 448.8,659.3 450.4,672.6 C451.9,685.9 454.0,701.8 454.4,712.4 C454.8,723.0 455.4,729.9 453.0,736.3 C450.6,742.7 446.0,748.2 439.8,750.9 C433.6,753.5 426.5,753.3 415.9,752.2 C405.3,751.1 389.4,748.2 376.1,744.2 C362.8,740.2 347.8,734.0 336.3,728.3 C324.8,722.6 314.0,716.4 307.1,709.8 C300.2,703.2 298.2,697.8 295.2,688.5 C292.2,679.2 290.4,665.6 289.1,654.1 C287.8,642.6 287.1,630.0 287.2,619.6 C287.3,609.2 288.5,599.0 289.6,592.0 C290.7,585.0 291.9,581.5 293.6,577.5 C295.3,573.5 297.5,570.5 300.0,568.0 C302.5,565.5 305.4,563.7 308.5,562.4 C311.6,561.1 313.9,560.2 318.5,560.4Z"/></clipPath>
<clipPath id="hBodyClip"><path d="M320.0,562.0 C325.0,558.4 346.7,567.2 360.0,568.5 C373.3,569.8 387.3,570.4 400.0,570.0 C412.7,569.6 424.2,567.9 436.3,566.3 C448.4,564.7 461.8,562.1 472.7,560.3 C483.6,558.5 492.9,557.0 501.8,555.4 C510.7,553.8 519.1,551.7 526.0,550.6 C532.9,549.5 537.8,548.7 543.0,548.9 C548.2,549.1 553.1,549.7 557.5,551.8 C561.9,553.9 565.8,557.0 569.6,561.5 C573.4,566.0 577.5,571.6 580.5,578.5 C583.5,585.4 586.6,595.4 587.8,602.7 C589.0,610.0 588.8,616.1 587.8,622.1 C586.8,628.1 584.7,634.6 581.7,639.0 C578.7,643.4 574.0,646.3 569.6,648.7 C565.2,651.1 559.5,652.4 555.1,653.6 C550.7,654.8 549.5,652.8 543.0,656.0 C536.5,659.2 524.0,668.1 516.3,673.0 C508.6,677.9 504.2,680.3 496.9,685.1 C489.6,689.9 479.6,696.8 472.7,702.0 C465.8,707.2 459.8,710.5 455.7,716.6 C451.6,722.7 452.3,741.2 448.0,738.4 C443.7,735.6 441.3,716.4 430.0,700.0 C418.7,683.6 396.7,658.3 380.0,640.0 C363.3,621.7 340.0,603.0 330.0,590.0 C320.0,577.0 315.0,565.6 320.0,562.0Z"/></clipPath>
</defs>
<g id="horn">
<g filter="url(#glow)" opacity="0.44">
<ellipse cx="435" cy="631" rx="163" ry="101" transform="rotate(-12 435 631)" fill="#2b83fa"/>
</g>
<path d="M513.8,672.0 C517.8,667.9 533.3,656.3 538.1,655.0 C542.9,653.7 542.0,660.8 542.8,664.0 C543.5,667.2 543.4,671.0 542.6,674.0 C541.8,677.0 540.4,680.4 538.0,682.2 C535.6,684.0 531.2,684.6 528.0,684.8 C524.8,685.0 521.3,684.5 519.0,683.6 C516.7,682.7 515.1,681.3 514.2,679.4 C513.3,677.5 509.8,676.1 513.8,672.0Z" fill="url(#hMount)"/>
<path d="M320.0,562.0 C325.0,558.4 346.7,567.2 360.0,568.5 C373.3,569.8 387.3,570.4 400.0,570.0 C412.7,569.6 424.2,567.9 436.3,566.3 C448.4,564.7 461.8,562.1 472.7,560.3 C483.6,558.5 492.9,557.0 501.8,555.4 C510.7,553.8 519.1,551.7 526.0,550.6 C532.9,549.5 537.8,548.7 543.0,548.9 C548.2,549.1 553.1,549.7 557.5,551.8 C561.9,553.9 565.8,557.0 569.6,561.5 C573.4,566.0 577.5,571.6 580.5,578.5 C583.5,585.4 586.6,595.4 587.8,602.7 C589.0,610.0 588.8,616.1 587.8,622.1 C586.8,628.1 584.7,634.6 581.7,639.0 C578.7,643.4 574.0,646.3 569.6,648.7 C565.2,651.1 559.5,652.4 555.1,653.6 C550.7,654.8 549.5,652.8 543.0,656.0 C536.5,659.2 524.0,668.1 516.3,673.0 C508.6,677.9 504.2,680.3 496.9,685.1 C489.6,689.9 479.6,696.8 472.7,702.0 C465.8,707.2 459.8,710.5 455.7,716.6 C451.6,722.7 452.3,741.2 448.0,738.4 C443.7,735.6 441.3,716.4 430.0,700.0 C418.7,683.6 396.7,658.3 380.0,640.0 C363.3,621.7 340.0,603.0 330.0,590.0 C320.0,577.0 315.0,565.6 320.0,562.0Z" fill="url(#hBody)"/>
<path d="M320.0,562.0 C325.0,558.4 346.7,567.2 360.0,568.5 C373.3,569.8 387.3,570.4 400.0,570.0 C412.7,569.6 424.2,567.9 436.3,566.3 C448.4,564.7 461.8,562.1 472.7,560.3 C483.6,558.5 492.9,557.0 501.8,555.4 C510.7,553.8 519.1,551.7 526.0,550.6 C532.9,549.5 537.8,548.7 543.0,548.9 C548.2,549.1 553.1,549.7 557.5,551.8 C561.9,553.9 565.8,557.0 569.6,561.5 C573.4,566.0 577.5,571.6 580.5,578.5 C583.5,585.4 586.6,595.4 587.8,602.7 C589.0,610.0 588.8,616.1 587.8,622.1 C586.8,628.1 584.7,634.6 581.7,639.0 C578.7,643.4 574.0,646.3 569.6,648.7 C565.2,651.1 559.5,652.4 555.1,653.6 C550.7,654.8 549.5,652.8 543.0,656.0 C536.5,659.2 524.0,668.1 516.3,673.0 C508.6,677.9 504.2,680.3 496.9,685.1 C489.6,689.9 479.6,696.8 472.7,702.0 C465.8,707.2 459.8,710.5 455.7,716.6 C451.6,722.7 452.3,741.2 448.0,738.4 C443.7,735.6 441.3,716.4 430.0,700.0 C418.7,683.6 396.7,658.3 380.0,640.0 C363.3,621.7 340.0,603.0 330.0,590.0 C320.0,577.0 315.0,565.6 320.0,562.0Z" fill="url(#hBodyX)"/>
<g clip-path="url(#hBodyClip)">
<path d="M501.8,553 C508,585 512,640 506,682" fill="none" stroke="#c3c4ca" stroke-width="1.8" opacity="0.08" filter="url(#soft)"/>
<ellipse cx="540" cy="668" rx="40" ry="14" fill="#a7a8b0" opacity="0.3" filter="url(#soft4)"/>
</g>
<path d="M318.5,560.4 C323.1,560.6 326.7,561.0 336.3,563.4 C345.9,565.8 363.3,570.0 376.1,574.5 C388.9,579.0 403.5,584.6 413.2,590.4 C422.9,596.1 429.2,601.9 434.5,609.0 C439.8,616.1 442.5,622.2 445.1,632.8 C447.8,643.4 448.8,659.3 450.4,672.6 C451.9,685.9 454.0,701.8 454.4,712.4 C454.8,723.0 455.4,729.9 453.0,736.3 C450.6,742.7 446.0,748.2 439.8,750.9 C433.6,753.5 426.5,753.3 415.9,752.2 C405.3,751.1 389.4,748.2 376.1,744.2 C362.8,740.2 347.8,734.0 336.3,728.3 C324.8,722.6 314.0,716.4 307.1,709.8 C300.2,703.2 298.2,697.8 295.2,688.5 C292.2,679.2 290.4,665.6 289.1,654.1 C287.8,642.6 287.1,630.0 287.2,619.6 C287.3,609.2 288.5,599.0 289.6,592.0 C290.7,585.0 291.9,581.5 293.6,577.5 C295.3,573.5 297.5,570.5 300.0,568.0 C302.5,565.5 305.4,563.7 308.5,562.4 C311.6,561.1 313.9,560.2 318.5,560.4Z" fill="url(#hRim)"/>
<g clip-path="url(#hMouthClip)">
<g filter="url(#soft2)">
<path d="M320.0,564.2 C324.3,564.4 326.9,564.7 336.3,567.0 C345.7,569.3 363.7,573.6 376.1,578.0 C388.5,582.4 401.5,588.0 410.6,593.6 C419.7,599.2 425.4,604.8 430.5,611.4 C435.6,618.0 438.4,622.8 441.1,633.0 C443.9,643.2 445.4,659.8 447.0,672.6 C448.6,685.4 450.3,700.0 450.6,709.8 C450.9,719.6 451.0,725.5 448.6,731.4 C446.2,737.3 442.1,742.5 436.2,745.0 C430.3,747.5 423.2,747.5 413.2,746.4 C403.2,745.3 388.5,742.2 376.1,738.4 C363.7,734.6 349.9,729.2 339.0,723.8 C328.1,718.4 317.3,712.1 310.6,705.8 C303.9,699.5 301.8,694.5 298.9,685.9 C296.0,677.3 294.6,665.0 293.3,654.0 C292.0,643.0 291.3,629.8 291.3,619.6 C291.3,609.4 292.4,599.7 293.4,593.0 C294.4,586.3 295.6,583.2 297.2,579.5 C298.8,575.8 300.8,573.2 303.0,571.0 C305.2,568.8 307.7,567.1 310.5,566.0 C313.3,564.9 315.7,564.0 320.0,564.2Z" fill="url(#hInner)"/>
</g>
</g>
<g clip-path="url(#hInnerClip)">
<path d="M320.0,564.2 C324.3,564.4 326.9,564.7 336.3,567.0 C345.7,569.3 363.7,573.6 376.1,578.0 C388.5,582.4 401.5,588.0 410.6,593.6 C419.7,599.2 425.4,604.8 430.5,611.4 C435.6,618.0 438.4,622.8 441.1,633.0 C443.9,643.2 445.4,659.8 447.0,672.6 C448.6,685.4 450.3,700.0 450.6,709.8 C450.9,719.6 451.0,725.5 448.6,731.4 C446.2,737.3 442.1,742.5 436.2,745.0 C430.3,747.5 423.2,747.5 413.2,746.4 C403.2,745.3 388.5,742.2 376.1,738.4 C363.7,734.6 349.9,729.2 339.0,723.8 C328.1,718.4 317.3,712.1 310.6,705.8 C303.9,699.5 301.8,694.5 298.9,685.9 C296.0,677.3 294.6,665.0 293.3,654.0 C292.0,643.0 291.3,629.8 291.3,619.6 C291.3,609.4 292.4,599.7 293.4,593.0 C294.4,586.3 295.6,583.2 297.2,579.5 C298.8,575.8 300.8,573.2 303.0,571.0 C305.2,568.8 307.7,567.1 310.5,566.0 C313.3,564.9 315.7,564.0 320.0,564.2Z" fill="url(#hPockTop)"/>
<path d="M320.0,564.2 C324.3,564.4 326.9,564.7 336.3,567.0 C345.7,569.3 363.7,573.6 376.1,578.0 C388.5,582.4 401.5,588.0 410.6,593.6 C419.7,599.2 425.4,604.8 430.5,611.4 C435.6,618.0 438.4,622.8 441.1,633.0 C443.9,643.2 445.4,659.8 447.0,672.6 C448.6,685.4 450.3,700.0 450.6,709.8 C450.9,719.6 451.0,725.5 448.6,731.4 C446.2,737.3 442.1,742.5 436.2,745.0 C430.3,747.5 423.2,747.5 413.2,746.4 C403.2,745.3 388.5,742.2 376.1,738.4 C363.7,734.6 349.9,729.2 339.0,723.8 C328.1,718.4 317.3,712.1 310.6,705.8 C303.9,699.5 301.8,694.5 298.9,685.9 C296.0,677.3 294.6,665.0 293.3,654.0 C292.0,643.0 291.3,629.8 291.3,619.6 C291.3,609.4 292.4,599.7 293.4,593.0 C294.4,586.3 295.6,583.2 297.2,579.5 C298.8,575.8 300.8,573.2 303.0,571.0 C305.2,568.8 307.7,567.1 310.5,566.0 C313.3,564.9 315.7,564.0 320.0,564.2Z" fill="url(#hPockBot)"/>
<path d="M320.0,564.2 C324.3,564.4 326.9,564.7 336.3,567.0 C345.7,569.3 363.7,573.6 376.1,578.0 C388.5,582.4 401.5,588.0 410.6,593.6 C419.7,599.2 425.4,604.8 430.5,611.4 C435.6,618.0 438.4,622.8 441.1,633.0 C443.9,643.2 445.4,659.8 447.0,672.6 C448.6,685.4 450.3,700.0 450.6,709.8 C450.9,719.6 451.0,725.5 448.6,731.4 C446.2,737.3 442.1,742.5 436.2,745.0 C430.3,747.5 423.2,747.5 413.2,746.4 C403.2,745.3 388.5,742.2 376.1,738.4 C363.7,734.6 349.9,729.2 339.0,723.8 C328.1,718.4 317.3,712.1 310.6,705.8 C303.9,699.5 301.8,694.5 298.9,685.9 C296.0,677.3 294.6,665.0 293.3,654.0 C292.0,643.0 291.3,629.8 291.3,619.6 C291.3,609.4 292.4,599.7 293.4,593.0 C294.4,586.3 295.6,583.2 297.2,579.5 C298.8,575.8 300.8,573.2 303.0,571.0 C305.2,568.8 307.7,567.1 310.5,566.0 C313.3,564.9 315.7,564.0 320.0,564.2Z" fill="url(#hInnerY)"/>
<g filter="url(#soft)">
<path d="M388.6,627.6 L433.5,610 L452,612 L454,659 L396,670.2 Z" fill="url(#hCyl)"/>
<path d="M388.6,627.6 L433.5,610 L452,612 L454,659 L396,670.2 Z" fill="url(#hCylX)"/>
<ellipse cx="392.6" cy="648.8" rx="14.3" ry="21.4" transform="rotate(-10 392.6 648.8)" fill="#dcdde2"/>
<ellipse cx="391.8" cy="648.8" rx="12.9" ry="20.0" transform="rotate(-10 391.8 648.8)" fill="#d8d9de"/>
</g>
<path d="M388.6,645.2 C388.2,651.6 389.6,655.4 392.4,655.6 C395.2,655.7 396.4,652.2 396.2,647.4" fill="none" stroke="#bbbcc3" stroke-width="1.5" stroke-linecap="round"/>
</g>
</g>
<circle cx="753.5" cy="150.8" r="25.2" fill="#0e73f6"/>
<g fill="none" stroke="#acd1ff" stroke-width="1.6">
<circle cx="753.5" cy="150.8" r="13.4"/>
<ellipse cx="753.5" cy="150.8" rx="6.9" ry="13.4"/>
<line x1="753.5" y1="137.4" x2="753.5" y2="164.2"/>
<line x1="740.1" y1="150.8" x2="766.9" y2="150.8"/>
</g>
<rect x="66" y="145.6" width="194" height="40.6" rx="4.5" fill="#cbcbcb"/><text x="85.6" y="174.1" textLength="154.4" lengthAdjust="spacingAndGlyphs" font-family="'Liberation Sans', sans-serif" font-size="22.5" fill="#fff" stroke="#fff" stroke-width="0.9" stroke-linejoin="round">Cloud Gateway</text>
<rect x="1232.5" y="313" width="235.5" height="41" rx="4.5" fill="#cbcbcb"/><text x="1252.2" y="341.8" textLength="196.8" lengthAdjust="spacingAndGlyphs" font-family="'Liberation Sans', sans-serif" font-size="22.5" fill="#fff" stroke="#fff" stroke-width="0.9" stroke-linejoin="round">Professional Switch</text>
<rect x="562.6" y="678" width="196.4" height="41" rx="4.5" fill="#0d73f7"/><text x="578.2" y="706.8" textLength="165.6" lengthAdjust="spacingAndGlyphs" font-family="'Liberation Sans', sans-serif" font-size="22.5" fill="#fff" stroke="#fff" stroke-width="0.95" stroke-linejoin="round">AI Horn Speaker</text></svg>
</body></html>
